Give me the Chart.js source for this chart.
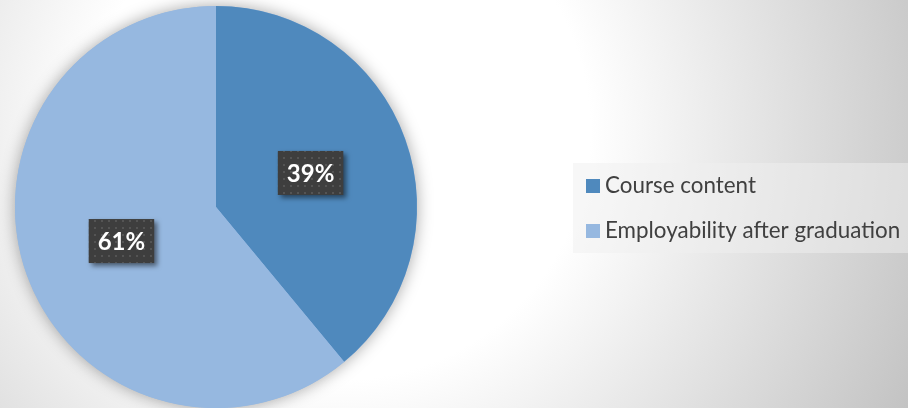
<!DOCTYPE html>
<html>
<head>
<meta charset="utf-8">
<script src="https://cdn.jsdelivr.net/npm/chart.js@4/dist/chart.umd.min.js"></script>
<style>
  html, body { margin: 0; padding: 0; background: #ffffff; }
  #wrap { width: 908px; height: 408px; position: relative; }
</style>
</head>
<body>
<div id="wrap"><canvas id="pieChart"></canvas></div>
<script>
// dados do gráfico
const categories = ['Course content', 'Employability after graduation'];
const shares = [39, 61];
const sliceColors = ['#4f89bd', '#96b8e0'];

const ctx = document.getElementById('pieChart');

// fundo com gradiente radial (branco no centro, cinza nas bordas)
const bgPlugin = {
    id: 'bg',
    beforeDraw(chart) {
        const c = chart.ctx;
        const g = c.createRadialGradient(340, 130, 250, 340, 130, 650);
        g.addColorStop(0, '#ffffff');
        g.addColorStop(1, '#c0c0c0');
        c.save();
        c.fillStyle = g;
        c.fillRect(0, 0, chart.width, chart.height);
        c.restore();
    },
    // sombra suave em volta da pizza
    beforeDatasetsDraw(chart) {
        const arc = chart.getDatasetMeta(0).data[0];
        if (!arc) return;
        const c = chart.ctx;
        c.save();
        c.shadowColor = 'rgba(0,0,0,0.35)';
        c.shadowBlur = 16;
        c.fillStyle = sliceColors[1];
        c.beginPath();
        c.arc(arc.x, arc.y, arc.outerRadius, 0, Math.PI * 2);
        c.fill();
        c.restore();
    }
};

// padrão pontilhado das caixas de rótulo
const makePattern = (c) => {
    const p = document.createElement('canvas');
    p.width = 7; p.height = 7;
    const pc = p.getContext('2d');
    pc.fillStyle = '#3e3e3e';
    pc.fillRect(0, 0, 7, 7);
    pc.fillStyle = '#545454';
    pc.fillRect(3, 3, 2, 2);
    return c.createPattern(p, 'repeat');
};

// rótulos de porcentagem
const labelPlugin = {
    id: 'pctLabels',
    afterDatasetsDraw(chart) {
        const c = chart.ctx;
        const meta = chart.getDatasetMeta(0);
        const total = shares.reduce((a, b) => a + b, 0);
        const pattern = makePattern(c);
        c.save();
        c.font = 'bold 24px Lato';
        c.textAlign = 'center';
        c.textBaseline = 'middle';
        meta.data.forEach((arc, i) => {
            const pos = arc.tooltipPosition();
            const txt = Math.round(shares[i] / total * 100) + '%';
            const w = c.measureText(txt).width + 18;
            const h = 44;
            c.save();
            c.shadowColor = 'rgba(0,0,0,0.5)';
            c.shadowBlur = 5;
            c.shadowOffsetX = 3;
            c.shadowOffsetY = 3;
            c.fillStyle = pattern;
            c.fillRect(pos.x - w / 2, pos.y - h / 2, w, h);
            c.restore();
            c.fillStyle = '#ffffff';
            c.fillText(txt, pos.x, pos.y + 1);
        });
        c.restore();
    }
};

// legenda desenhada à mão
const legendPlugin = {
    id: 'sideLegend',
    afterDraw(chart) {
        const c = chart.ctx;
        const left = 573, top = 163;
        c.save();
        c.fillStyle = 'rgba(240,240,240,0.5)';
        c.fillRect(left, top, chart.width - left, 90);
        c.font = '22.4px Lato';
        c.textBaseline = 'alphabetic';
        c.textAlign = 'left';
        categories.forEach((name, i) => {
            const y = top + 16 + i * 45;
            c.fillStyle = sliceColors[i];
            c.fillRect(left + 13, y, 14, 14);
            c.fillStyle = '#404040';
            c.fillText(name, left + 32, y + 14);
        });
        c.restore();
    }
};

const pieChart = new Chart(ctx, {
    type: 'pie',
    data: {
        labels: categories,
        datasets: [{
            data: shares,
            backgroundColor: sliceColors,
            borderWidth: 0
        }]
    },
    options: {
        responsive: true,
        maintainAspectRatio: false,
        animation: false,
        layout: {
            padding: { left: 15, top: 6, right: 491, bottom: 0 }
        },
        plugins: {
            legend: { display: false },
            tooltip: { enabled: false },
            title: { display: false }
        }
    },
    plugins: [bgPlugin, labelPlugin, legendPlugin]
});
</script>
</body>
</html>
